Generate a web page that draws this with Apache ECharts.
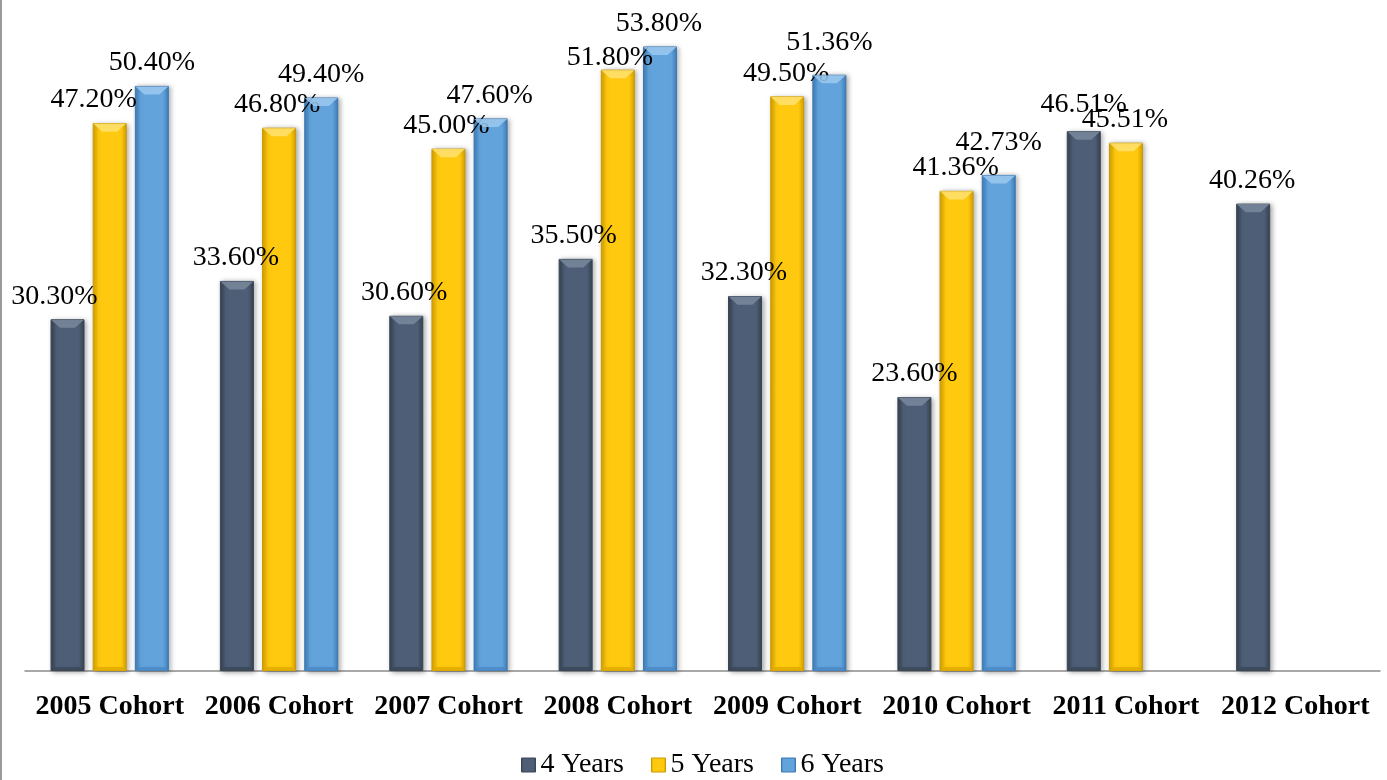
<!DOCTYPE html>
<html>
<head>
<meta charset="utf-8">
<script src="https://cdn.jsdelivr.net/npm/echarts@6/dist/echarts.min.js"></script>
<style>
html,body{margin:0;padding:0;background:#fff;}
#chart{width:1387px;height:780px;}
</style>
</head>
<body>
<div id="chart"></div>
<script>
const categories = ['2005 Cohort','2006 Cohort','2007 Cohort','2008 Cohort','2009 Cohort','2010 Cohort','2011 Cohort','2012 Cohort'];
const seriesNames = ['4 Years','5 Years','6 Years'];
const years4 = [30.30, 33.60, 30.60, 35.50, 32.30, 23.60, 46.51, 40.26];
const years5 = [47.20, 46.80, 45.00, 51.80, 49.50, 41.36, 45.51, null];
const years6 = [50.40, 49.40, 47.60, 53.80, 51.36, 42.73, null, null];

// label nudges [dx, dy] in pixels (styling only)
const shift4 = [[-13,0],[-1,0],[-2,0],[-2,0],[-1,0],[0,0],[0,-3],[-1,0]];
const shift5 = [[-16,0],[-2,0],[-2,0],[-8,11],[-1,0],[-1,0],[-1,0],[0,0]];
const shift6 = [[0,0],[0,0],[-1,0],[-1,0],[0,-9],[0,-9],[0,0],[0,0]];

const BAR_W = 34, BAR_GAP = 8.16;

const palettes = [
  {edge:'#36424f', mid:'#4d5e76', border:'#3a4657', top:'#7a889c', bot:'#3b4757'},
  {edge:'#d9a300', mid:'#ffc90f', border:'#c99a00', top:'#ffe270', bot:'#e0aa00'},
  {edge:'#3f7fbd', mid:'#62a3dc', border:'#3d78b0', top:'#9ccaf0', bot:'#4a88c4'}
];

function grad(p){
  return new echarts.graphic.LinearGradient(0,0,1,0,[
    {offset:0, color:p.edge},
    {offset:0.17, color:p.mid},
    {offset:0.83, color:p.mid},
    {offset:1, color:p.edge}
  ]);
}

function buildData(values, shifts){
  return values.map((v,i)=> v==null ? null : ({
    value: v,
    label: {offset: shifts[i]}
  }));
}

const valueSets = [years4, years5, years6];
const dataSets = [buildData(years4,shift4), buildData(years5,shift5), buildData(years6,shift6)];

function bevelSeries(si){
  const p = palettes[si];
  const pts = [];
  valueSets[si].forEach((v,i)=>{ if(v!=null) pts.push([i, v]); });
  return {
    type:'custom', silent:true, z:3,
    data: pts,
    renderItem: function(params, api){
      const top = api.coord([api.value(0), api.value(1)]);
      const base = api.coord([api.value(0), 0]);
      const cx = top[0] + (si-1)*(BAR_W+BAR_GAP);
      const x0 = cx - BAR_W/2 + 0.5, x1 = cx + BAR_W/2 - 0.5;
      const y0 = top[1] + 0.5, yb = base[1];
      const b = 9;
      return {
        type:'group',
        children:[
          {type:'polygon', shape:{points:[[x0,y0],[x1,y0],[x1-b,y0+b*0.9],[x0+b,y0+b*0.9]]},
           style:{fill:p.top, opacity:0.85}},
          {type:'polygon', shape:{points:[[x0,yb],[x1,yb],[x1-4,yb-4],[x0+4,yb-4]]},
           style:{fill:p.bot, opacity:0.8}}
        ]
      };
    }
  };
}

const chart = echarts.init(document.getElementById('chart'));
const fontFam = '"Liberation Serif", "DejaVu Serif", serif';

const barSeries = dataSets.map((d,i)=>({
  name: seriesNames[i],
  type:'bar',
  data:d,
  barWidth:BAR_W,
  barGap:(BAR_GAP/BAR_W*100).toFixed(1)+'%',
  itemStyle:{
    color:grad(palettes[i]),
    borderColor:palettes[i].border,
    borderWidth:1,
    shadowBlur:5, shadowOffsetX:2, shadowOffsetY:1,
    shadowColor:'rgba(0,0,0,0.35)'
  },
  label:{
    show:true, position:'top', distance:9,
    color:'#000', fontFamily:fontFam, fontSize:28,
    formatter: p => p.value.toFixed(2) + '%'
  },
  z:2
}));

chart.setOption({
  animation:false,
  backgroundColor:'#ffffff',
  textStyle:{fontFamily:fontFam},
  graphic:[{
    type:'line', shape:{x1:1,y1:0,x2:1,y2:780},
    style:{stroke:'#9a9a9a', lineWidth:2}, silent:true
  }],
  legend:{
    top:751, left:521, padding:0,
    itemWidth:14, itemHeight:14, itemGap:27,
    icon:'rect',
    textStyle:{fontFamily:fontFam, fontSize:28, color:'#000'},
    data: seriesNames.map((n,i)=>({name:n, itemStyle:{color:grad(palettes[i]), borderColor:palettes[i].border, borderWidth:1}}))
  },
  grid:{left:25, right:7, top:0, bottom:109, containLabel:false},
  xAxis:{
    type:'category', data:categories,
    axisLine:{lineStyle:{color:'#8c8c8c', width:1.5}},
    axisTick:{show:false},
    axisLabel:{color:'#000', fontFamily:fontFam, fontWeight:'bold', fontSize:28, margin:22, interval:0}
  },
  yAxis:{
    type:'value', min:0, max:57.8,
    show:false, splitLine:{show:false}
  },
  series: barSeries.concat([bevelSeries(0), bevelSeries(1), bevelSeries(2)])
});
</script>
</body>
</html>
